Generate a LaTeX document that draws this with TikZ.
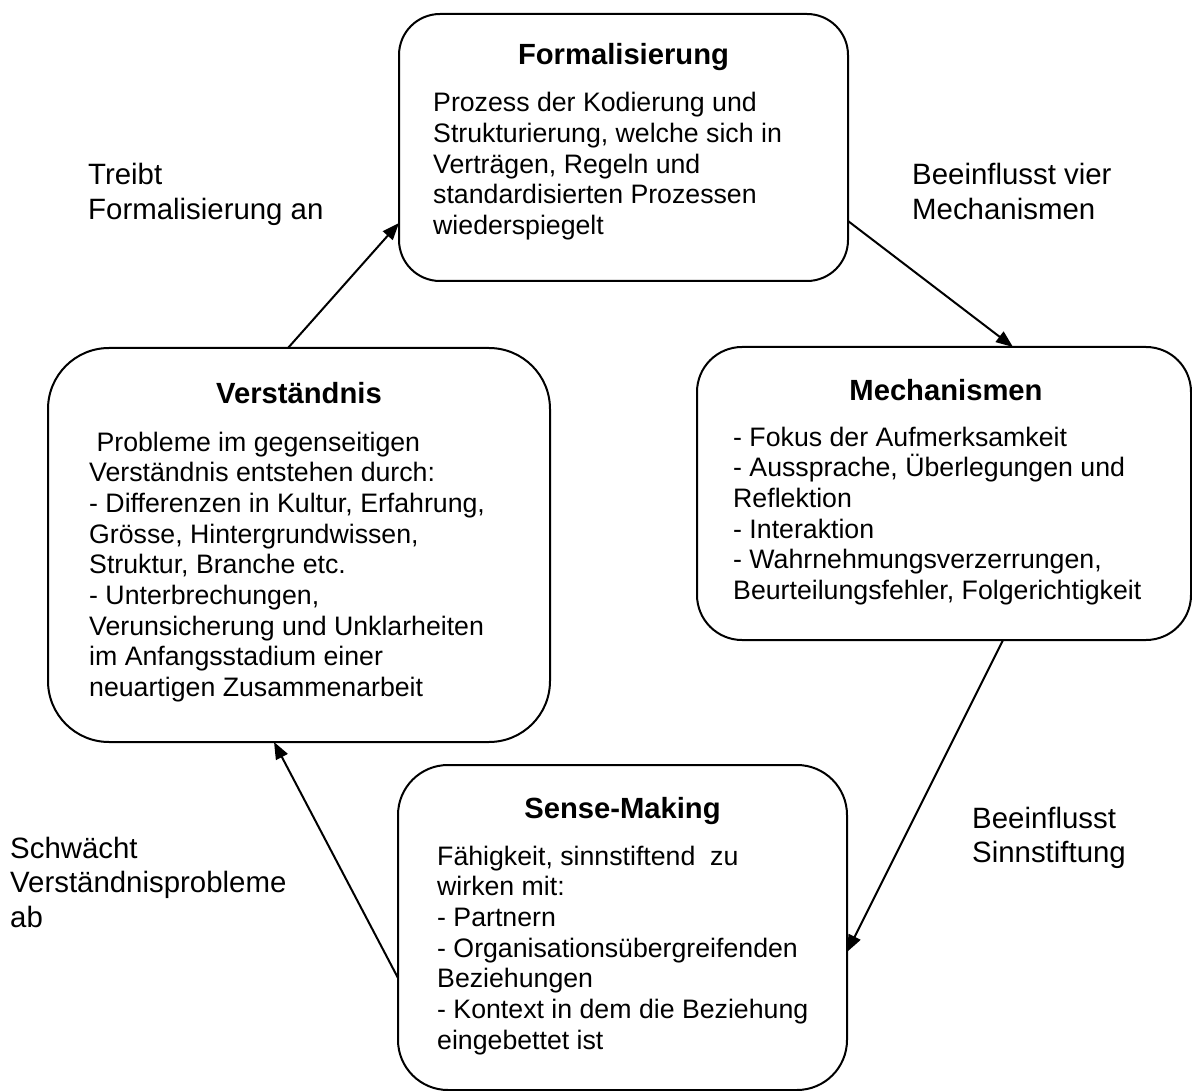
\documentclass[tikz,border=0pt]{standalone}
\usepackage{fontspec}
\setmainfont{Liberation Sans}
\usetikzlibrary{arrows.meta,calc}
\begin{document}
\begin{tikzpicture}[x=1pt,y=-1pt,
  box/.style={draw=black,line width=2pt,inner sep=0pt,outer sep=0pt},
  title/.style={font=\bfseries\fontsize{29.2}{34}\selectfont,inner sep=0pt,anchor=base},
  body/.style={font=\fontsize{26.7}{30.7}\selectfont,inner sep=0pt,anchor=base west},
  lbl/.style={font=\fontsize{29.4}{34.5}\selectfont,inner sep=0pt,anchor=base west},
  arr/.style={draw=black,line width=2pt,-{Triangle[length=17pt,width=13pt]}}]
\useasboundingbox[fill=white] (0,0) rectangle (1192,1091);

% boxes
\node[box,rounded corners=41pt,minimum width=449pt,minimum height=267pt] (formal) at (623.5,147.5) {};
\node[box,rounded corners=45pt,minimum width=494pt,minimum height=293pt] (mech) at (944,493.5) {};
\node[box,rounded corners=61pt,minimum width=502pt,minimum height=394pt] (verst) at (299,545) {};
\node[box,rounded corners=50pt,minimum width=449pt,minimum height=325pt] (sense) at (622.5,927.5) {};

% titles
\node[title] (formalT) at (623.5,65) {Formalisierung};
\node[title] (mechT) at (946,400) {Mechanismen};
\node[title] (verstT) at (299,403) {Verständnis};
\node[title] (senseT) at (622.5,818) {Sense-Making};

% bodies
\node[body] (formalB) at (433,111.7) {\parbox[t]{410pt}{\raggedright
Prozess der Kodierung und\\
Strukturierung, welche sich in\\
Verträgen, Regeln und\\
standardisierten Prozessen\\
wiederspiegelt}};

\node[body] (mechB) at (733,446) {\parbox[t]{450pt}{\raggedright
- Fokus der Aufmerksamkeit\\
- Aussprache, Überlegungen und\\
Reflektion\\
- Interaktion\\
- Wahrnehmungsverzerrungen,\\
Beurteilungsfehler, Folgerichtigkeit}};

\node[body] (verstB) at (89,451) {\parbox[t]{450pt}{\raggedright
\hspace*{7.4pt}Probleme im gegenseitigen\\
Verständnis entstehen durch:\\
- Differenzen in Kultur, Erfahrung,\\
Grösse, Hintergrundwissen,\\
Struktur, Branche etc.\\
- Unterbrechungen,\\
Verunsicherung und Unklarheiten\\
im Anfangsstadium einer\\
neuartigen Zusammenarbeit}};

\node[body] (senseB) at (437,865) {\parbox[t]{410pt}{\raggedright
Fähigkeit, sinnstiftend\ \ zu\\
wirken mit:\\
- Partnern\\
- Organisationsübergreifenden\\
Beziehungen\\
- Kontext in dem die Beziehung\\
eingebettet ist}};

% connector labels
\node[lbl] (l1) at (88,185) {\parbox[t]{300pt}{\raggedright Treibt\\ Formalisierung an}};
\node[lbl] (l2) at (912,185) {\parbox[t]{280pt}{\raggedright Beeinflusst vier\\ Mechanismen}};
\node[lbl] (l3) at (972,828) {\parbox[t]{220pt}{\raggedright Beeinflusst\\ Sinnstiftung}};
\node[lbl] (l4) at (10,858) {\parbox[t]{300pt}{\raggedright Schwächt\\ Verständnisprobleme\\ ab}};

% connectors
\draw[arr] ($(verst.north west)+(240,0)$) -- ($(formal.north west)+(0,209)$);
\draw[arr] ($(formal.north east)+(0,207)$) -- ($(mech.north west)+(316,0)$);
\draw[arr] ($(mech.south west)+(306,0)$) -- ($(sense.north east)+(0,187)$);
\draw[arr] ($(sense.north west)+(0,213)$) -- ($(verst.south west)+(226,0)$);
\end{tikzpicture}
\end{document}
